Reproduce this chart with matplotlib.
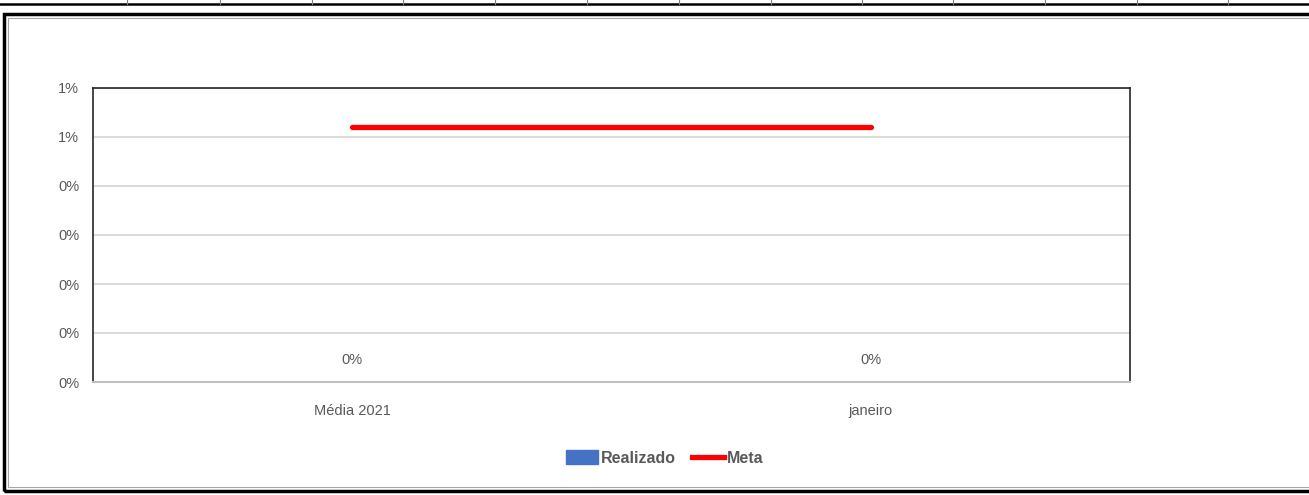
import matplotlib.pyplot as plt
from matplotlib.lines import Line2D
from matplotlib.patches import Patch, Rectangle

plt.rcParams['font.family'] = ['Liberation Sans', 'DejaVu Sans']

# dados do gráfico
categorias = ['Média 2021', 'janeiro']
realizado = [0.0, 0.0]
meta = [0.0052, 0.0052]
y_ticks = [0, 0.001, 0.002, 0.003, 0.004, 0.005, 0.006]
y_labels = ['0%', '0%', '0%', '0%', '0%', '1%', '1%']

cinza_texto = '#595959'
azul = '#4472C4'
vermelho = '#FF0000'

fig = plt.figure(figsize=(13.09, 4.95), dpi=100)
ax = fig.add_axes([93 / 1309, 1 - 382 / 495, (1130 - 93) / 1309, (382 - 88) / 495])

x = list(range(len(categorias)))
ax.bar(x, realizado, width=0.45, color=azul, zorder=2)
ax.plot(x, meta, color=vermelho, linewidth=3.8, solid_capstyle='round', zorder=3)

for i, v in zip(x, realizado):
    ax.annotate(f'{v:.0%}', (i, v), textcoords='offset points', xytext=(0, 11),
                ha='center', va='bottom', fontsize=10.5, color=cinza_texto)

ax.set_xlim(-0.5, len(categorias) - 0.5)
ax.set_ylim(y_ticks[0], y_ticks[-1])
ax.set_yticks(y_ticks)
ax.set_yticklabels(y_labels)
ax.set_xticks(x)
ax.set_xticklabels(categorias)
ax.tick_params(axis='both', length=0, labelsize=10.5, labelcolor=cinza_texto)
ax.tick_params(axis='x', pad=16)
ax.tick_params(axis='y', pad=10)

ax.grid(axis='y', color='#d9d9d9', linewidth=1.3, zorder=0)
ax.set_axisbelow(True)
for lado in ['left', 'top', 'right']:
    ax.spines[lado].set_color('#262626')
    ax.spines[lado].set_linewidth(1.2)
ax.spines['bottom'].set_color('#bfbfbf')
ax.spines['bottom'].set_linewidth(1.5)

handles = [Patch(color=azul, label='Realizado'),
           Line2D([], [], color=vermelho, linewidth=3.8, label='Meta')]
fig.legend(handles=handles, loc='center', bbox_to_anchor=(665 / 1309, 1 - 458 / 495),
           ncol=2, frameon=False, handlelength=2.0, handleheight=0.9, handletextpad=0.2,
           columnspacing=1.0, prop={'weight': 'bold', 'size': 11.5}, labelcolor=cinza_texto)

# moldura da planilha
fig.add_artist(Line2D([0, 1], [1 - 4 / 495, 1 - 4 / 495], color='black', linewidth=1.8))
for cx in [127, 220, 312, 403, 495, 587, 679, 771, 862, 953, 1045, 1137, 1228]:
    fig.add_artist(Line2D([cx / 1309, cx / 1309], [1 - 4 / 495, 1], color='#7f7f7f', linewidth=0.8))
fig.add_artist(Rectangle((4 / 1309, 1 - 491 / 495), 1.0, (491 - 14) / 495, transform=fig.transFigure,
                         fill=False, edgecolor='black', linewidth=2.5))
fig.add_artist(Rectangle((8 / 1309, 1 - 487 / 495), 1.0, (487 - 18) / 495, transform=fig.transFigure,
                         fill=False, edgecolor='#a6a6a6', linewidth=0.8))

fig.savefig('out.png', dpi=100)
